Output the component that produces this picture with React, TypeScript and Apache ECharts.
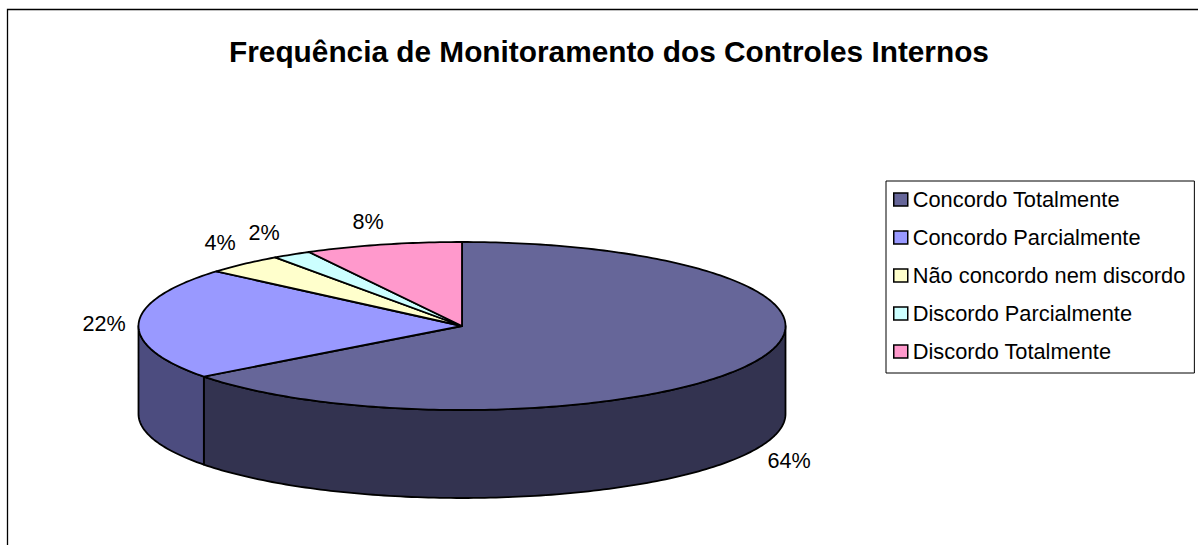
import React, { useEffect, useRef } from "react";
import * as echarts from "echarts";

const categories = ["Concordo Totalmente", "Concordo Parcialmente", "Não concordo nem discordo", "Discordo Parcialmente", "Discordo Totalmente"];
const responses = [33, 11, 2, 1, 4];
const percentLabels = ["64%", "22%", "4%", "2%", "8%"];
const topColors = ["#666699", "#9999FF", "#FFFFCC", "#CCFFFF", "#FF99CC"];
const sideColors = ["#333350", "#4C4C7F", "#7F7F66", "#667F7F", "#7F4C66"];
const labelPositions = [[789, 460], [104, 323], [220, 242], [264, 232], [368, 221]];

const CX = 462;
const CY = 326;
const RX = 323.5;
const RY = 84;
const DEPTH = 88;
const total = responses.reduce((a, b) => a + b, 0);
const FONT = "Liberation Sans, Arial, sans-serif";

const pt = (deg: number, dy = 0): [number, number] => {
  const r = (deg * Math.PI) / 180;
  return [CX + RX * Math.sin(r), CY - RY * Math.cos(r) + dy];
};
const arcPts = (a: number, b: number, dy = 0) => {
  const out: [number, number][] = [];
  const n = Math.max(2, Math.ceil(Math.abs(b - a)));
  for (let i = 0; i <= n; i++) out.push(pt(a + ((b - a) * i) / n, dy));
  return out;
};
const toPath = (pts: [number, number][]) =>
  "M" + pts.map((p) => p[0].toFixed(2) + " " + p[1].toFixed(2)).join("L") + "Z";

const makeRenderItem = (index: number) => () => {
  const start = (responses.slice(0, index).reduce((a, b) => a + b, 0) / total) * 360;
  const end = start + (responses[index] / total) * 360;
  const children: any[] = [];
  const sStart = Math.max(start, 90);
  const sEnd = Math.min(end, 270);
  const stroke = { stroke: "#000", lineWidth: 1.8, lineJoin: "round" };
  if (sEnd > sStart) {
    const side = [...arcPts(sStart, sEnd), ...arcPts(sEnd, sStart, DEPTH)];
    children.push({
      type: "path",
      shape: { pathData: toPath(side) },
      style: { fill: sideColors[index], ...stroke },
    });
  }
  const top: [number, number][] = [[CX, CY], ...arcPts(start, end)];
  children.push({
    type: "path",
    shape: { pathData: toPath(top) },
    style: { fill: topColors[index], ...stroke },
  });
  children.push({
    type: "text",
    style: {
      text: percentLabels[index],
      x: labelPositions[index][0],
      y: labelPositions[index][1],
      fill: "#000",
      font: `21.6px ${FONT}`,
      align: "center",
      verticalAlign: "middle",
    },
  });
  return { type: "group", children };
};

export default function App() {
  const ref = useRef<HTMLDivElement>(null);
  useEffect(() => {
    const chart = echarts.init(ref.current!, undefined, { renderer: "svg" });
    chart.setOption({
      animation: false,
      backgroundColor: "#fff",
      title: {
        text: "Frequência de Monitoramento dos Controles Internos",
        left: 604,
        top: 31,
        textAlign: "center",
        textStyle: { fontFamily: FONT, fontSize: 29.8, fontWeight: "bold", color: "#000" },
      },
      legend: {
        orient: "vertical",
        left: 886,
        top: 181,
        padding: [7, 9, 10, 7],
        icon: "rect",
        itemWidth: 14,
        itemHeight: 13,
        itemGap: 15,
        borderColor: "#000",
        borderWidth: 1,
        backgroundColor: "#fff",
        selectedMode: false,
        itemStyle: { borderColor: "#000", borderWidth: 1.5 },
        textStyle: { fontFamily: FONT, fontSize: 21.8, color: "#000", lineHeight: 23 },
        data: categories,
      },
      graphic: [
        { type: "rect", silent: true, z: -1, shape: { x: 7.5, y: 9.5, width: 1300, height: 700 }, style: { fill: "none", stroke: "#000", lineWidth: 1.3 } },
      ],
      series: categories.map((name, i) => ({
        type: "custom",
        name,
        coordinateSystem: "none",
        itemStyle: { color: topColors[i] },
        data: [responses[i]],
        renderItem: makeRenderItem(i),
      })),
    });
    return () => chart.dispose();
  }, []);
  return <div ref={ref} style={{ position: "absolute", left: 0, top: 0, width: 1198, height: 545 }} />;
}
